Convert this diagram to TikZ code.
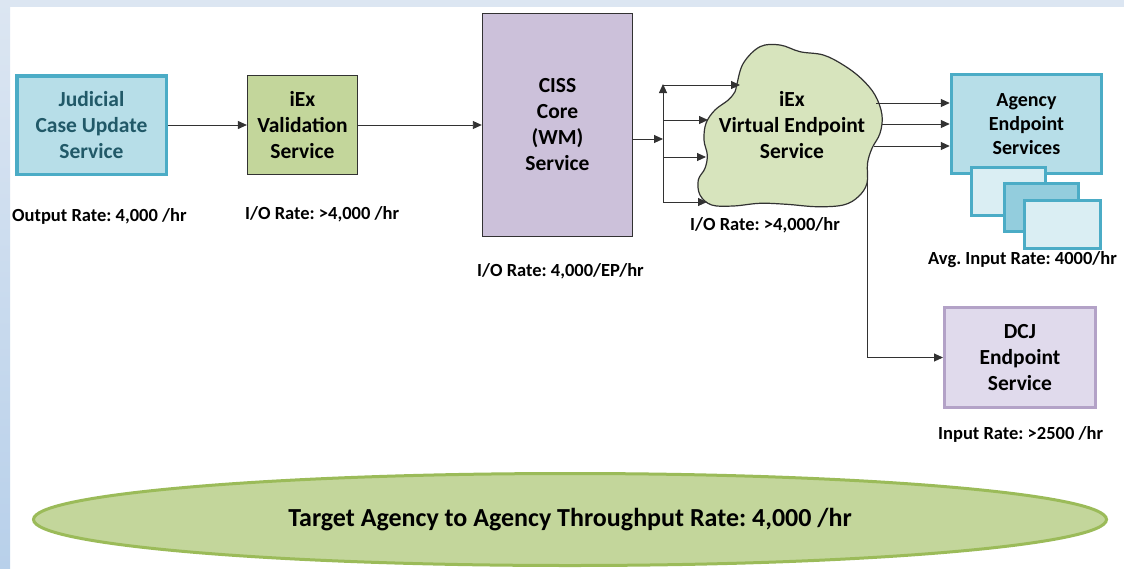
\documentclass[tikz,border=0pt]{standalone}
\usepackage{fontspec}
\setmainfont{Carlito}
\usetikzlibrary{arrows.meta,shapes.geometric}
\definecolor{bgblue}{RGB}{220,230,242}
\definecolor{bgblue2}{RGB}{184,208,234}
\definecolor{tealfill}{RGB}{183,222,232}
\definecolor{tealline}{RGB}{75,172,198}
\definecolor{tealtext}{RGB}{33,89,104}
\definecolor{lighttealfill}{RGB}{218,238,243}
\definecolor{midtealfill}{RGB}{147,205,221}
\definecolor{greenfill}{RGB}{195,214,155}
\definecolor{greenline}{RGB}{155,187,89}
\definecolor{cloudfill}{RGB}{215,228,189}
\definecolor{purplefill}{RGB}{204,193,218}
\definecolor{dcjfill}{RGB}{224,218,236}
\definecolor{dcjline}{RGB}{179,162,199}
\definecolor{linegray}{RGB}{50,50,50}
\frenchspacing
\newcommand\bxfont{\fontsize{21.5}{26}\selectfont\bfseries}
\newcommand\agfont{\fontsize{20}{24}\selectfont\bfseries}
\newcommand\lbfont{\fontsize{18.5}{22}\selectfont\bfseries}
\tikzset{
  box/.style={draw, rectangle, align=center, font=\bxfont, inner sep=0pt},
  tealbox/.style={box, fill=tealfill, draw=tealline, line width=3.5pt},
  smallbox/.style={rectangle, draw=tealline, line width=3pt, minimum width=74pt, minimum height=48pt, inner sep=0pt},
  lbl/.style={font=\lbfont, anchor=west, inner sep=0pt},
  arr/.style={draw=linegray, line width=0.9pt, -{Triangle[length=9pt,width=8pt]}},
}
\begin{document}
\begin{tikzpicture}[x=1pt,y=-1pt]
\useasboundingbox (0,0) rectangle (1124,568);
\fill[white] (0,0) rectangle (1124,568);
\fill[bgblue] (0,0) rectangle (1124,7);
\shade[top color=bgblue, bottom color=bgblue2] (0,0) rectangle (10,568);

% nodes
\node[tealbox, text=tealtext, minimum width=149.5pt, minimum height=98.5pt] (jud) at (91.5,125) {Judicial\\Case Update\\Service};
\node[box, fill=greenfill, draw=linegray, line width=1.2pt, minimum width=110pt, minimum height=99pt] (val) at (302.5,125) {iEx\\Validation\\Service};
\node[box, fill=purplefill, draw=linegray, line width=1.4pt, minimum width=150pt, minimum height=223pt] (ciss) at (557.5,125) {CISS\\Core\\(WM)\\Service};

% cloud
\draw[draw=linegray, line width=1.2pt, fill=cloudfill] plot[smooth cycle, tension=0.6] coordinates {
 (736.7,85) (743.3,63.3) (760,46.7) (780,45) (800,51.7) (823.3,55) (843.3,65) (861,78.3)
 (875,95) (882,115) (880,133.3) (872,148.3) (867.5,163.3) (867,183.3) (858.3,196.7)
 (843.3,205) (816.7,206.7) (786.7,204.3) (760,203.3) (733.3,206) (711.7,205) (700,195)
 (698.3,180) (705,168.3) (707.3,155) (704,140) (706,123.3) (715,110) (728.3,100) (735,91.7)};
\node[align=center, font=\bxfont, inner sep=0pt] (vep) at (792,125) {iEx\\Virtual Endpoint\\Service};

\node[tealbox, minimum width=150pt, minimum height=99pt, font=\agfont] (ag) at (1026.5,124) {Agency\\Endpoint\\Services};
\node[smallbox, fill=lighttealfill] (r1) at (1008.5,191) {};
\node[smallbox, fill=midtealfill] (r2) at (1041.5,207.5) {};
\node[smallbox, fill=lighttealfill, minimum width=76pt] (r3) at (1062.5,224) {};
\node[box, fill=dcjfill, draw=dcjline, line width=3pt, minimum width=151pt, minimum height=100pt] (dcj) at (1020,357.5) {DCJ\\Endpoint\\Service};

\node[ellipse, fill=greenfill, draw=greenline, line width=3pt, minimum width=1073pt, minimum height=92pt, inner sep=0pt, font=\fontsize{26}{30}\selectfont\bfseries] (tgt) at (570,519.5) {Target Agency to Agency Throughput Rate: 4,000 /hr};

% labels
\node[lbl] (l1) at (12,216) {Output Rate: 4,000 /hr};
\node[lbl] (l2) at (245,214) {I/O Rate: >4,000 /hr};
\node[lbl] (l3) at (477,271) {I/O Rate: 4,000/EP/hr};
\node[lbl] (l4) at (690,225) {I/O Rate: >4,000/hr};
\node[lbl] (l5) at (928,260) {Avg. Input Rate: 4000/hr};
\node[lbl] (l6) at (938,434) {Input Rate: >2500 /hr};

% connectors
\draw[arr] (jud.east) -- (val.west);
\draw[arr] (val.east) -- (ciss.west);
\coordinate (split) at (663,139);
\coordinate (sb) at (663,202);
\coordinate (st) at (663,85);
\draw[arr] (split -| ciss.east) -- (split);
\draw[arr] (sb) -- ([yshift=1pt]st);
\coordinate (c1) at (740,85);
\coordinate (c2) at (708,120);
\coordinate (c3) at (706,157);
\coordinate (c4) at (707,202);
\draw[arr] (st) -- (c1);
\draw[arr] (st |- c2) -- (c2);
\draw[arr] (st |- c3) -- (c3);
\draw[arr] (sb) -- (c4);

\coordinate (o1) at (876,103);
\coordinate (o2) at (882,124);
\coordinate (o3) at (874,146);
\draw[arr] (o1) -- (o1 -| ag.west);
\draw[arr] (o2) -- (o2 -| ag.west);
\draw[arr] (o3) -- (o3 -| ag.west);
\coordinate (o4) at (867.5,172);
\draw[arr] (o4) |- (dcj.west);
\end{tikzpicture}
\end{document}
